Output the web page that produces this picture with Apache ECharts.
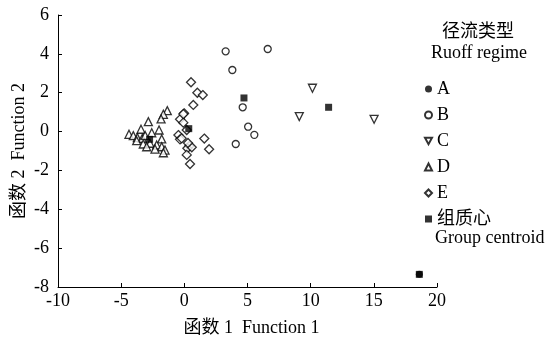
<!DOCTYPE html>
<html>
<head>
<meta charset="utf-8">
<script src="https://cdn.jsdelivr.net/npm/echarts@6/dist/echarts.min.js"></script>
<style>
  html, body { margin: 0; padding: 0; background: #fff; }
  #chart { width: 549px; height: 342px; }
</style>
</head>
<body>
<div id="chart"></div>
<script>
// discriminant scores: [function 1, function 2]
const groupA = [[18.6, -7.35]];
const groupB = [[3.27, 4.13], [6.6, 4.25], [3.8, 3.17], [4.62, 1.25], [5.05, 0.25], [5.54, -0.17], [4.07, -0.64]];
const groupC = [[10.14, 2.23], [9.1, 0.77], [15.02, 0.63]];
const groupD = [
  [-1.35, 1.08], [-1.66, 0.89], [-1.84, 0.65], [-2.85, 0.51], [-2.0, 0.08], [-3.43, 0.12],
  [-2.58, -0.06], [-4.38, -0.14], [-4.04, -0.21], [-3.72, -0.31], [-3.33, -0.35], [-1.79, -0.38],
  [-3.77, -0.47], [-3.25, -0.64], [-2.72, -0.6], [-2.19, -0.69], [-1.79, -0.78], [-1.53, -0.95],
  [-2.32, -0.9], [-1.66, -1.09], [-2.98, -0.78], [-3.1, -0.2]
];
const groupE = [
  [0.53, 2.54], [1.03, 2.0], [1.46, 1.88], [0.71, 1.37], [-0.02, 0.94], [-0.34, 0.63],
  [-0.08, 0.46], [0.19, 0.08], [-0.47, -0.18], [-0.34, -0.4], [-0.21, -0.35], [0.4, -0.74],
  [0.24, -0.86], [0.59, -0.81], [0.19, -1.2], [0.45, -1.67], [1.58, -0.36], [1.96, -0.91],
  [-0.08, 0.9], [0.29, -0.59]
];
const centroids = [[18.6, -7.35], [4.72, 1.73], [11.42, 1.25], [-2.75, -0.4], [0.35, 0.15]];

const legendNames = ['A', 'B', 'C', 'D', 'E', '组质心'];

const SERIF = "'Liberation Serif', 'Times New Roman', 'Noto Sans CJK SC', serif";
const FS = 18;
const DOWN_TRIANGLE = 'path://M0,0 L10,0 L5,9 Z';

const chart = echarts.init(document.getElementById('chart'));

const openStyle = { color: '#fff', borderColor: '#000', borderWidth: 1.3 };

chart.setOption({
  animation: false,
  textStyle: { fontFamily: SERIF, color: '#000' },
  grid: { left: 58, right: 112, top: 15, bottom: 55, containLabel: false, outerBoundsMode: 'none' },
  xAxis: {
    type: 'value',
    min: -10,
    max: 20,
    interval: 5,
    name: '函数 1  Function 1',
    nameLocation: 'middle',
    nameGap: 32,
    nameMoveOverlap: false,
    nameTextStyle: { fontFamily: SERIF, fontSize: FS, color: '#000', padding: [0, 0, 0, 8] },
    axisLine: { onZero: false, lineStyle: { color: '#000', width: 1 } },
    axisTick: { inside: true, length: 4, lineStyle: { color: '#000' } },
    axisLabel: { fontFamily: SERIF, fontSize: FS, color: '#000', margin: 5 },
    splitLine: { show: false }
  },
  yAxis: {
    type: 'value',
    min: -8,
    max: 6,
    interval: 2,
    name: '函数 2  Function 2',
    nameLocation: 'middle',
    nameGap: 30,
    nameMoveOverlap: false,
    nameTextStyle: { fontFamily: SERIF, fontSize: FS, color: '#000' },
    axisLine: { show: true, onZero: false, lineStyle: { color: '#000', width: 1 } },
    axisTick: { show: true, inside: true, length: 4, lineStyle: { color: '#000' } },
    axisLabel: { fontFamily: SERIF, fontSize: FS, color: '#000', margin: 9 },
    splitLine: { show: false }
  },
  legend: {
    orient: 'vertical',
    left: 419,
    top: 74,
    itemWidth: 7,
    itemHeight: 7,
    itemGap: 6,
    selectedMode: false,
    textStyle: { fontFamily: SERIF, fontSize: FS, color: '#000', lineHeight: 20 },
    data: legendNames.map(n => (n === 'C' ? { name: n, icon: DOWN_TRIANGLE } : n))
  },
  graphic: [
    { type: 'text', x: 478, y: 32, style: { text: '径流类型', font: FS + 'px ' + SERIF, fill: '#000', textAlign: 'center', textVerticalAlign: 'middle' } },
    { type: 'text', x: 479, y: 53, style: { text: 'Ruoff regime', font: FS + 'px ' + SERIF, fill: '#000', textAlign: 'center', textVerticalAlign: 'middle' } },
    { type: 'text', x: 435, y: 238, style: { text: 'Group centroid', font: FS + 'px ' + SERIF, fill: '#000', textVerticalAlign: 'middle' } }
  ],
  series: [
    { name: 'A', type: 'scatter', data: groupA, symbol: 'circle', symbolSize: 7, itemStyle: { color: '#000' } },
    { name: 'B', type: 'scatter', data: groupB, symbol: 'circle', symbolSize: 7, itemStyle: openStyle },
    { name: 'C', type: 'scatter', data: groupC, symbol: 'triangle', symbolSize: 8, symbolRotate: 180, itemStyle: openStyle },
    { name: 'D', type: 'scatter', data: groupD, symbol: 'triangle', symbolSize: 8, itemStyle: openStyle },
    { name: 'E', type: 'scatter', data: groupE, symbol: 'diamond', symbolSize: 9, itemStyle: openStyle },
    { name: '组质心', type: 'scatter', data: centroids, symbol: 'rect', symbolSize: 7, itemStyle: { color: '#000' }, z: 5 }
  ]
});
</script>
</body>
</html>
